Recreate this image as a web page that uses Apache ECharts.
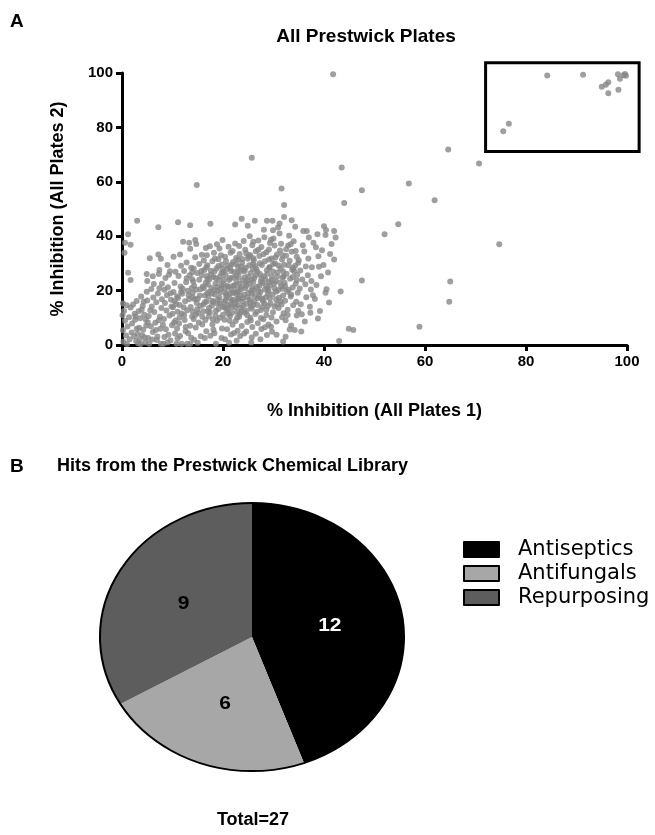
<!DOCTYPE html>
<html><head><meta charset="utf-8">
<script src="https://cdn.jsdelivr.net/npm/echarts@6/dist/echarts.min.js"></script>
<style>
html,body{margin:0;padding:0;background:#fff;}
#main{position:absolute;left:0;top:0;width:655px;height:835px;}
#pie{position:absolute;left:92px;top:477px;width:320px;height:320px;transform:scaleY(0.8816);transform-origin:50% 50%;}
</style>
</head><body>
<div id="main"></div><div id="pie"></div>
<script>
// ---- data ----
const coreCloud = [
[0.3,1.2],[0.8,3.5],[1.5,2.1],[0.2,5.4],[1.1,6.8],[1.9,4.6],[0.6,8.9],[1.4,10.2],[0.4,12.5],[1.7,13.8],[0.9,14.6],[2.2,14.9],[0.5,33.9],[1.7,36.9],[0.6,37.6],[1.2,40.7],[1.2,26.6],[1.7,23.9],[2.5,11.5],[1.0,0.4],[2.8,1.5],[2.0,7.9],[0.2,15.3],[2.9,6.0],[2.4,3.2],[0.1,10.9],[2.6,9.3],
[3.2,0.6],[3.7,0.4],[4.5,2.8],[3.1,4.1],[4.2,5.6],[3.6,9.8],[4.8,7.2],[3.3,12.4],[4.4,11.1],[2.9,16.2],[4.1,14.3],[3.8,17.8],[4.9,19.6],[3.0,45.7],[4.9,26.1],[5.0,23.5],[3.5,2.2],[4.6,0.9],[2.7,10.5],[4.0,3.6],[3.9,13.0],[4.7,9.4],[3.4,6.3],[4.3,15.9],
[5.4,0.5],[7.7,0.5],[5.8,20.6],[7.4,27.6],[7.3,26.1],[7.2,33.3],[7.7,31.7],[5.5,31.9],[7.2,43.3],[5.2,2.6],[6.1,4.8],[7.0,3.1],[5.7,6.9],[6.6,8.2],[7.6,6.0],[5.3,10.7],[6.4,12.1],[7.5,10.4],[5.9,14.2],[6.8,15.7],[7.8,13.6],[6.2,17.5],[7.1,18.9],[5.6,12.8],[6.9,1.8],[7.9,16.8],[6.3,22.4],[7.4,20.9],[5.1,8.4],[6.7,5.5],[7.3,9.1],[6.0,2.0],[5.0,16.4],[7.9,22.5],
[8.2,0.5],[10.8,0.5],[8.4,2.9],[9.6,1.7],[10.5,4.2],[8.7,5.8],[9.9,7.3],[10.9,6.1],[8.3,9.6],[9.4,10.8],[10.6,9.0],[8.8,12.7],[10.1,13.9],[11.0,12.2],[8.5,15.4],[9.7,16.6],[10.7,15.1],[8.9,18.3],[10.2,19.5],[9.1,21.2],[10.4,22.8],[8.6,24.6],[10.2,32.4],[9.5,27.1],[11.1,45.1],[9.2,3.8],[10.0,11.5],[8.1,7.4],[9.8,14.2],[10.9,17.9],[8.4,20.3],[9.3,25.8],[10.6,26.9],[11.0,2.4],[9.0,0.9],[9.6,19.0],[10.3,8.2],
[11.8,0.5],[12.9,0.5],[13.5,0.5],[11.5,3.3],[12.6,5.1],[13.7,2.7],[11.3,7.9],[12.4,9.2],[13.5,7.1],[11.8,11.6],[12.9,12.8],[13.9,10.5],[11.4,14.7],[12.5,16.1],[13.6,14.0],[11.9,18.8],[13.0,19.9],[14.0,17.6],[11.6,21.5],[12.7,23.1],[13.8,21.0],[11.2,25.4],[12.3,27.2],[13.4,25.6],[12.1,38.0],[13.3,37.6],[13.5,35.4],[13.5,44.0],[12.8,30.3],[11.7,29.1],[13.1,4.3],[12.2,13.9],[13.3,16.8],[11.1,17.3],[12.0,20.7],[13.9,24.2],[12.6,6.6],[11.4,10.1],[13.7,28.4],[14.0,12.3],
[14.8,58.8],[14.5,38.6],[14.7,37.1],[14.3,1.9],[15.6,3.2],[16.4,2.6],[14.6,6.4],[15.9,7.5],[16.7,5.1],[14.2,9.6],[15.1,11.8],[16.5,9.2],[14.9,13.1],[16.1,14.9],[17.0,12.3],[14.4,16.8],[15.4,18.2],[16.8,16.0],[14.7,20.3],[16.0,21.5],[16.9,19.0],[14.1,23.3],[15.3,24.0],[16.6,22.9],[14.9,26.5],[15.7,27.2],[16.8,25.4],[15.3,29.8],[16.2,31.1],[14.5,32.3],[15.8,33.2],[16.6,35.7],[15.2,8.3],[16.1,12.4],[14.8,15.4],[15.5,20.5],[16.4,18.2],[16.9,24.3],[14.2,28.1],[15.0,0.8],[16.9,29.3],[15.5,14.3],[14.0,19.2],[16.3,27.6],
[18.6,0.5],[17.5,3.4],[18.3,4.3],[19.7,2.6],[17.9,7.5],[18.8,8.9],[19.8,6.1],[17.2,10.5],[18.6,12.6],[19.4,10.0],[17.8,14.4],[18.9,15.2],[19.9,14.1],[17.1,17.8],[18.4,18.6],[19.3,17.4],[17.7,21.0],[18.5,22.5],[19.6,20.6],[17.3,24.1],[18.1,25.0],[19.2,23.8],[17.6,27.3],[18.7,28.1],[19.7,26.5],[17.9,30.8],[19.1,31.5],[19.8,29.6],[18.2,33.9],[19.3,35.5],[17.4,36.3],[18.8,37.0],[19.5,19.3],[17.9,16.3],[18.0,9.4],[19.1,13.2],[17.0,22.2],[18.6,24.5],[19.9,27.9],[18.1,5.6],[19.0,16.7],[17.4,12.0],[18.3,20.2],[19.6,33.0],
[20.4,2.1],[21.6,3.9],[22.7,1.6],[20.8,5.8],[21.9,7.4],[22.9,5.2],[20.3,9.3],[21.4,10.7],[22.5,8.8],[20.7,12.6],[21.8,14.0],[22.8,12.1],[20.2,15.9],[21.3,17.3],[22.4,15.5],[20.6,19.2],[21.7,20.6],[22.7,18.7],[20.1,22.5],[21.2,23.9],[22.3,22.0],[20.5,25.8],[21.6,27.2],[22.6,25.4],[20.9,29.1],[22.0,30.5],[23.0,28.7],[20.4,32.4],[21.5,33.9],[22.6,32.0],[21.1,36.1],[22.4,37.3],[20.7,17.7],[21.0,13.2],[22.1,16.6],[22.9,20.3],[20.3,20.8],[21.4,24.6],[22.2,26.8],[20.8,27.9],[21.9,19.1],[22.5,13.9],[20.0,11.1],[21.3,8.9],[22.8,10.0],[21.7,29.6],[20.2,24.0],[22.0,21.8],[21.5,15.0],[20.6,18.4],[22.7,23.3],[21.1,21.3],[23.0,16.9],[20.9,14.6],[21.8,11.9],[23.0,31.4],[22.2,4.4],[21.2,0.8],
[23.4,3.3],[24.6,5.0],[25.7,2.8],[23.7,7.0],[24.8,8.5],[25.8,6.6],[23.2,10.4],[24.3,11.9],[25.4,10.0],[23.6,13.7],[24.7,15.2],[25.7,13.3],[23.1,17.0],[24.2,18.5],[25.3,16.6],[23.5,20.3],[24.6,21.8],[25.6,19.9],[23.9,23.6],[25.0,25.1],[26.0,23.2],[23.4,26.9],[24.5,28.4],[25.5,26.5],[23.8,30.2],[24.9,31.7],[25.9,29.8],[23.3,33.5],[24.4,35.0],[25.4,33.1],[23.7,46.4],[25.3,40.0],[24.1,38.2],[25.8,36.7],[23.0,19.3],[24.0,14.3],[24.9,17.5],[25.2,22.6],[24.3,24.9],[25.9,27.9],[23.6,28.8],[24.7,12.7],[25.5,9.0],[23.9,16.0],[24.4,20.9],[25.7,18.8],[23.2,22.4],[26.0,14.8],[25.1,32.6],[24.2,4.2],[25.7,68.8],
[26.3,45.7],[28.7,45.7],[29.8,45.7],[26.5,4.1],[27.6,5.9],[28.7,3.7],[26.9,8.0],[28.0,9.5],[29.0,7.5],[26.4,11.4],[27.5,12.9],[28.6,11.0],[26.8,14.7],[27.9,16.2],[28.9,14.3],[26.3,18.0],[27.4,19.5],[28.5,17.6],[26.7,21.3],[27.8,22.8],[28.8,20.9],[26.2,24.6],[27.3,26.1],[28.4,24.2],[26.6,27.9],[27.7,29.4],[28.7,27.5],[26.1,31.2],[27.2,32.7],[28.3,30.8],[26.5,34.5],[27.6,36.0],[28.6,34.1],[27.0,38.4],[28.2,39.6],[29.3,37.5],[26.9,17.2],[27.2,21.7],[28.1,25.3],[29.1,23.2],[26.4,29.0],[27.8,14.0],[28.9,18.8],[29.2,28.6],[27.5,9.9],[28.3,6.5],
[29.5,6.7],[30.6,8.6],[31.7,10.2],[29.9,12.0],[31.0,13.6],[32.0,11.7],[29.4,15.3],[30.5,16.8],[31.6,14.9],[29.8,18.6],[30.9,20.1],[31.9,18.2],[29.3,21.9],[30.4,23.4],[31.5,21.5],[29.7,25.2],[30.8,26.7],[31.8,24.8],[29.2,28.5],[30.3,30.0],[31.4,28.1],[29.6,31.8],[30.7,33.3],[31.7,31.4],[29.1,35.1],[30.2,36.6],[31.3,34.7],[30.0,39.2],[31.2,41.0],[29.9,42.2],[31.6,57.5],[32.1,51.5],[32.1,47.1],[31.2,44.7],[30.6,3.8],[31.1,17.4],[30.1,22.6],[31.9,27.0],[29.6,10.1],[30.5,19.6],
[32.4,9.1],[33.5,7.2],[34.6,10.8],[32.8,13.0],[33.9,14.6],[34.9,12.6],[32.3,16.3],[33.4,17.8],[34.5,15.9],[32.7,19.6],[33.8,21.1],[34.8,19.2],[32.2,22.9],[33.3,24.4],[34.4,22.5],[32.6,26.2],[33.7,27.7],[34.7,25.8],[32.1,29.5],[33.2,31.0],[34.3,29.1],[32.5,32.8],[33.6,34.3],[34.6,32.4],[32.9,36.6],[34.0,38.1],[34.3,43.5],[33.1,40.2],[32.4,3.0],[34.2,5.5],[33.0,20.3],[34.1,27.1],[32.8,11.0],
[35.9,41.9],[36.6,41.9],[35.0,31.2],[36.1,34.4],[37.6,28.6],[37.9,37.6],[38.4,35.9],[37.2,14.1],[35.6,11.3],[37.8,18.3],[35.4,15.0],[36.5,17.6],[35.2,20.8],[36.3,22.3],[37.4,20.4],[35.7,24.1],[36.8,25.6],[37.5,23.5],[35.3,27.4],[36.4,28.9],[36.9,31.8],[35.8,36.7],[37.0,39.5],[36.2,8.6],[37.3,11.9],[35.5,5.0],
[38.7,40.7],[39.0,28.8],[39.9,29.4],[41.5,37.1],[42.3,39.5],[42.0,41.9],[40.0,43.7],[40.4,42.3],[40.3,40.4],[42.0,31.4],[41.0,15.6],[40.5,20.5],[40.3,19.2],[43.3,19.7],[43.0,1.5],[44.9,6.0],[45.8,5.5],[38.5,22.1],[39.4,25.3],[38.9,32.6],[39.6,34.8],[38.2,16.9],[39.2,12.5],[40.8,26.7],[38.8,9.7],[41.2,33.5],
[16.2,20.9],[18.9,21.3],[20.5,16.4],[23.4,18.1],[24.8,23.7],[26.1,20.2],[27.6,24.5],[29.0,19.9],[30.7,25.1],[32.3,21.6],[33.5,18.6],[31.4,16.0],[28.2,15.3],[25.4,15.6],[22.9,26.9],[19.4,25.2],[17.3,19.6],[26.8,26.9],[29.9,29.8],[33.9,28.3],[24.1,27.7],[21.3,18.9],[18.1,15.8],[27.2,17.9],[30.2,14.2],[34.6,23.8],[25.8,21.1],[23.7,12.4],[28.5,22.0],[31.8,20.7]
];
const denseCore = [
[10.4,16.2],[11.7,19.6],[12.3,11.0],[12.8,24.5],[13.2,18.3],[13.9,26.7],[14.6,11.1],[14.3,21.8],[15.0,17.0],[15.8,25.6],[15.9,10.4],[16.4,15.7],[16.7,28.6],[17.2,13.6],[17.6,25.8],[17.8,18.9],[18.3,27.0],[18.5,10.8],[18.9,19.9],[19.1,29.0],[19.4,15.3],[19.7,22.0],[20.1,26.8],[20.3,13.9],[20.6,30.9],[20.9,21.7],[21.1,11.4],[21.4,28.4],[21.8,16.2],[22.0,24.7],[22.3,19.4],[22.6,29.8],[22.9,14.8],[23.1,25.0],[23.3,11.5],[23.6,21.4],[23.8,31.6],[24.0,17.3],[24.3,27.1],[24.5,22.9],[24.8,10.9],[25.0,19.1],[25.2,29.3],[25.5,14.2],[25.7,24.1],[26.0,31.9],[26.2,16.1],[26.5,25.7],[26.7,12.2],[27.0,19.7],[27.3,30.1],[27.5,23.3],[27.8,17.0],[28.0,33.4],[28.3,20.4],[28.6,13.0],[28.8,26.2],[29.1,31.4],[29.3,17.1],[29.6,23.8],[29.9,27.0],[30.2,20.9],[30.4,32.2],[30.7,15.1],[31.0,29.2],[31.3,23.0],[31.5,37.2],[31.8,33.0],[32.0,25.2],[32.5,35.2],[33.0,29.3],[33.4,37.0],[33.8,25.0],[34.4,34.6],[34.9,30.2],[16.8,33.0],[18.4,31.8],[21.9,34.6],[24.6,33.6],[27.0,35.0],[29.5,38.7],[23.2,36.4],[26.0,38.0],[19.9,38.6],[30.9,43.2],[28.1,42.4],[33.6,45.9],[24.9,43.8],[27.4,2.1],[29.7,4.9],[31.9,1.3],[25.6,0.9],[33.2,5.7],[22.4,44.3],[17.5,44.6],[11.5,33.3],[9.0,29.4],[6.1,25.3]
];
const outlierHits = [
[41.8,99.5],[43.5,65.3],[44.0,52.2],[47.5,56.9],[56.8,59.4],[61.9,53.2],[64.6,71.9],[70.7,66.7],[54.7,44.4],[52.0,40.7],[74.7,37.0],[65.0,23.3],[64.8,15.9],[58.9,6.7],[47.5,23.7]
];
const boxedHits = [
[84.2,99.1],[91.3,99.4],[98.2,99.5],[99.6,99.6],[99.8,99.0],[99.3,99.2],[98.6,97.9],[96.3,96.6],[95.8,95.7],[95.0,94.9],[96.3,92.6],[98.3,93.8],[76.6,81.3],[75.5,78.6]
];
// highlight box in data units: [xMin, yMin, xMax, yMax]
const hitBox = [72, 71.1, 102.4, 103.8];

const pieNames = ['Antiseptics', 'Antifungals', 'Repurposing'];
const pieValues = [12, 6, 9];
const pieTotalLabel = 'Total=27';

// ---- styles ----
const FONT = '"Liberation Sans", Arial, Helvetica, sans-serif';
const pieColors = ['#000000', '#a7a7a7', '#5d5d5d'];
const pieLabelColors = ['#ffffff', '#000000', '#000000'];

const pieData = pieNames.map((n, i) => ({
  name: n, value: pieValues[i],
  itemStyle: { color: pieColors[i] },
  label: { color: pieLabelColors[i] }
}));

const main = echarts.init(document.getElementById('main'));
const axisCommon = {
  type: 'value', min: 0, max: 100, interval: 20,
  axisLine: { show: true, onZero: false, lineStyle: { color: '#000', width: 3 } },
  axisTick: { show: true, length: 6, lineStyle: { color: '#000', width: 3 } },
  axisLabel: { color: '#000', fontSize: 15, fontWeight: 'bold', fontFamily: FONT, margin: 9 },
  splitLine: { show: false },
  nameLocation: 'middle',
  nameTextStyle: { color: '#000', fontSize: 18, fontWeight: 'bold', fontFamily: FONT }
};
main.setOption({
  animation: false,
  grid: { left: 122, right: 28, top: 73, bottom: 490 },
  xAxis: Object.assign({}, axisCommon, { name: '% Inhibition (All Plates 1)', nameGap: 57 }),
  yAxis: Object.assign({}, axisCommon, { name: '% Inhibition (All Plates 2)', nameGap: 55 }),
  legend: {
    orient: 'vertical', left: 463, top: 539, padding: 0,
    itemWidth: 35, itemHeight: 15, itemGap: 3, icon: 'rect',
    selectedMode: false,
    itemStyle: { borderColor: '#000', borderWidth: 2 },
    textStyle: { color: '#000', fontSize: 21, fontFamily: '"DejaVu Sans", sans-serif', padding: [0, 0, 0, 14] },
    data: pieNames
  },
  series: [
    {
      type: 'scatter', name: 'plates', symbolSize: 6, clip: false,
      itemStyle: { color: '#878787' },
      data: coreCloud.concat(denseCore, outlierHits, boxedHits),
      z: 1
    },
    {
      // legend source only (pie itself drawn in the elliptical overlay)
      type: 'pie', radius: [0, 0], center: [252, 637], silent: true,
      label: { show: false }, labelLine: { show: false },
      itemStyle: { borderColor: '#000', borderWidth: 0 },
      data: pieData
    }
  ]
});

const p1 = main.convertToPixel({ gridIndex: 0 }, [hitBox[0], hitBox[3]]);
const p2 = main.convertToPixel({ gridIndex: 0 }, [hitBox[2], hitBox[1]]);
const txt = (s, x, y, size, align) => ({
  type: 'text', x: x, y: y, silent: true,
  style: { text: s, fontSize: size, fontWeight: 'bold', fontFamily: FONT, fill: '#000', align: align || 'left', verticalAlign: 'middle' }
});
main.setOption({
  graphic: [
    txt('A', 10, 22, 19),
    txt('All Prestwick Plates', 366, 37, 19, 'center'),
    txt('B', 10, 467, 19),
    txt('Hits from the Prestwick Chemical Library', 57, 466, 18),
    txt(pieTotalLabel, 253, 820, 18, 'center'),
    {
      type: 'rect', silent: true,
      shape: { x: p1[0], y: p1[1], width: p2[0] - p1[0], height: p2[1] - p1[1] },
      style: { fill: 'none', stroke: '#000', lineWidth: 3 }
    }
  ]
});

const pie = echarts.init(document.getElementById('pie'), null, { renderer: 'svg' });
pie.setOption({
  animation: false,
  series: [
    {
      type: 'pie', radius: [0, 152], center: ['50%', '50%'], startAngle: 90, clockwise: true,
      silent: true,
      itemStyle: { borderWidth: 0 },
      label: { show: true, position: 'inside', formatter: '{c}', fontSize: 21, fontWeight: 'bold', fontFamily: FONT },
      labelLine: { show: false },
      data: pieData
    },
    {
      type: 'pie', radius: [0, 152], center: ['50%', '50%'], silent: true,
      label: { show: false }, labelLine: { show: false },
      itemStyle: { color: 'rgba(0,0,0,0)', borderColor: '#000', borderWidth: 2 },
      data: [{ value: 1, name: 'outline' }]
    }
  ]
});
</script>
</body></html>
